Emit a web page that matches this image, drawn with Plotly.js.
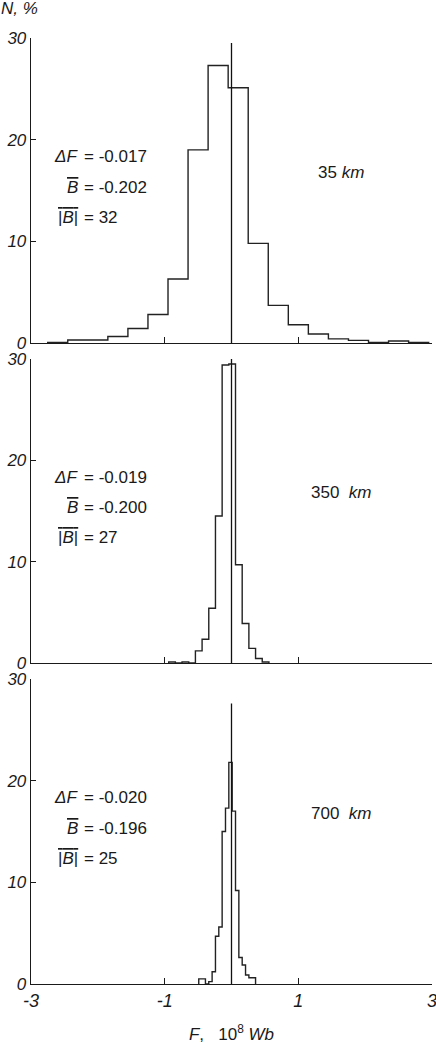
<!DOCTYPE html>
<html>
<head>
<meta charset="utf-8">
<script src="https://cdn.plot.ly/plotly-3.0.1.min.js"></script>
<style>body{margin:0;background:#fff}</style>
</head>
<body>
<div id="chart" style="width:436px;height:1048px"></div>
<script>
// flux F (10^8 Wb) distributions, N in %, for three heights
const heights = ['35', '350', '700'];
const binStart = [-2.75, -0.94, -0.49];
const binWidth = [0.3, 0.1, 0.05];

const n35 = [0.05, 0.3, 0.3, 0.64, 1.42, 2.8, 6.3, 19.0, 27.3, 25.1, 9.8, 3.7, 1.8, 0.88, 0.4, 0.26, 0.05, 0.2, 0.05];
const n350 = [0.1, 0, 0.1, 0, 1.2, 2.35, 5.4, 14.5, 29.4, 29.5, 9.7, 3.9, 1.45, 0.45, 0.1];
const n700 = [0.5, 0.5, 0, 0.23, 1.2, 4.7, 5.6, 15.0, 17.3, 21.8, 17.0, 9.2, 2.6, 1.87, 0.89, 0.62, 0.62];

const deltaF = ['-0.017', '-0.019', '-0.020'];
const meanB = ['-0.202', '-0.200', '-0.196'];
const meanAbsB = ['32', '27', '25'];
const zeroTop = [29.5, 30, 27.6];

const xTickVals = [-3, -1, 1, 3];
const xTickText = ['-3', '-1', '1', '3'];
const yTickVals = [0, 10, 20, 30];
const yTickText = ['0', '10', '20', '30'];

const FONT = 'Liberation Sans, Arial, sans-serif';
const INK = '#1a1a1a';

/**
 * Outline histogram as a step line
 */
function stepTrace(counts, start, width, i) {
	const x = [start];
	const y = [0];
	counts.forEach((c, k) => {
		x.push(start + k * width);
		y.push(c);
	});
	x.push(start + counts.length * width);
	y.push(0);
	return {
		x, y,
		xaxis: i ? 'x' + (i + 1) : 'x',
		yaxis: i ? 'y' + (i + 1) : 'y',
		type: 'scatter',
		mode: 'lines',
		line: { shape: 'hv', color: '#222', width: 1.4 },
		hoverinfo: 'skip',
		showlegend: false,
	};
}

const allCounts = [n35, n350, n700];
const data = allCounts.map((c, i) => stepTrace(c, binStart[i], binWidth[i], i));

// sub-plot domains, 0 = bottom
const domains = [[0.6776, 1], [0.3393, 0.6607], [0, 0.3224]];

const layout = {
	width: 436,
	height: 1048,
	margin: { l: 31, r: 4, t: 38, b: 64 },
	paper_bgcolor: '#fff',
	plot_bgcolor: '#fff',
	showlegend: false,
	font: { family: FONT, color: INK },
	shapes: [],
	annotations: [],
};

heights.forEach((h, i) => {
	const sfx = i ? String(i + 1) : '';
	const xa = {
		range: [-3, 3],
		anchor: 'y' + sfx,
		showline: true, linecolor: INK, linewidth: 1.3,
		showgrid: false, zeroline: false,
		ticks: 'inside', ticklen: 6, tickwidth: 1.2, tickcolor: INK,
		tickvals: xTickVals, ticktext: xTickText,
		showticklabels: i === 2,
		ticklabeloverflow: 'allow',
		tickfont: { family: FONT, size: 18, style: 'italic', color: INK },
		fixedrange: true,
	};
	if (i) xa.matches = 'x';
	if (i === 2) {
		xa.title = {
			text: '<i>F</i>,   10<sup>8</sup> <i>Wb</i>',
			font: { family: FONT, size: 17, color: INK },
			standoff: 18,
		};
	}
	layout['xaxis' + sfx] = xa;

	layout['yaxis' + sfx] = {
		domain: domains[i],
		anchor: 'x' + sfx,
		range: [0, 30],
		showline: true, linecolor: INK, linewidth: 1.3,
		showgrid: false, zeroline: false,
		ticks: 'inside', ticklen: 5, tickwidth: 1.2, tickcolor: INK,
		tickvals: yTickVals, ticktext: yTickText,
		ticklabeloverflow: 'allow',
		tickfont: { family: FONT, size: 17, style: 'italic', color: INK },
		fixedrange: true,
	};

	// F = 0 marker line
	layout.shapes.push({
		type: 'line', xref: 'x' + sfx, yref: 'y' + sfx,
		x0: 0, x1: 0, y0: 0, y1: zeroTop[i],
		line: { color: '#111', width: 1.3 },
	});

	// statistics block
	const yref = 'y' + sfx + ' domain';
	const rows = [
		['<i>ΔF</i>', '= ' + deltaF[i], 0.61],
		['<span style="text-decoration:overline"><i>B</i></span>', '= ' + meanB[i], 0.511],
		['<span style="text-decoration:overline">|<i>B</i>|</span>', '= ' + meanAbsB[i], 0.413],
	];
	rows.forEach(([lhs, rhs, y]) => {
		layout.annotations.push({
			xref: 'paper', yref, x: 0.12, y, xanchor: 'right', yanchor: 'middle',
			text: lhs, showarrow: false, borderpad: 0,
			font: { family: FONT, size: 17, color: INK },
		});
		layout.annotations.push({
			xref: 'paper', yref, x: 0.13, y, xanchor: 'left', yanchor: 'middle',
			text: rhs, showarrow: false, borderpad: 0,
			font: { family: FONT, size: 17, color: INK },
		});
	});

	layout.annotations.push({
		xref: 'paper', yref, x: 0.773, y: 0.56, xanchor: 'center', yanchor: 'middle',
		text: h + (i ? '  ' : ' ') + '<i>km</i>', showarrow: false, borderpad: 0,
		font: { family: FONT, size: 17, color: INK },
	});
});

// y axis title at top-left
layout.annotations.push({
	xref: 'paper', yref: 'paper', x: -0.0773, y: 1.0317, xanchor: 'left', yanchor: 'middle',
	text: '<i>N, %</i>', showarrow: false, borderpad: 0,
	font: { family: FONT, size: 17, color: INK },
});

Plotly.newPlot('chart', data, layout, { displayModeBar: false, staticPlot: true });
</script>
</body>
</html>
